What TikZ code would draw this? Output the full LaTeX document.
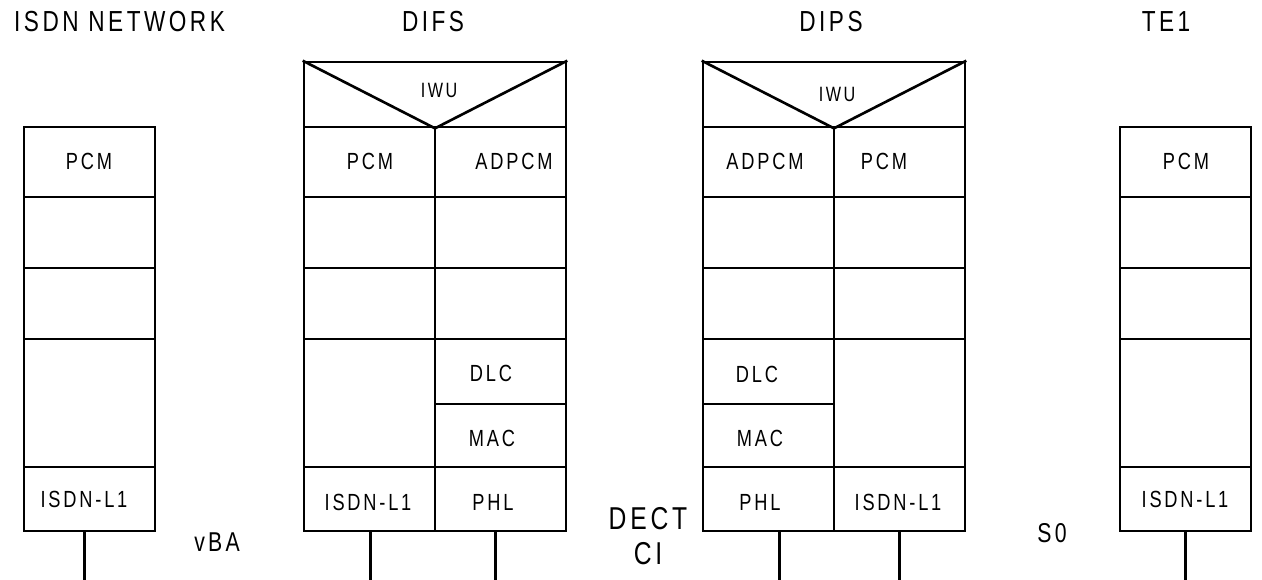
\documentclass[tikz,border=0pt]{standalone}
\usepackage{fontspec}
\setmainfont{Liberation Sans}[FakeStretch=0.78, LetterSpace=12]
\usetikzlibrary{fit}

\tikzset{
	layer/.style={draw, line width=1.5pt, inner sep=0pt},
	wire/.style={line width=1.5pt},
	cell/.style={font=\fontsize{13.3}{15}\selectfont},
	iwu/.style={font=\fontsize{11.8}{13}\selectfont},
	title/.style={font=\fontsize{16.5}{19}\selectfont},
	iface/.style={font=\fontsize{15.5}{18}\selectfont, align=center}
}

\begin{document}
	\begin{tikzpicture}[x=0.02cm,y=-0.02cm]
		\useasboundingbox (0,0) rectangle (1262,580);
		
		% titles
		\node[title, anchor=west] (tnet) at (8,22) {ISDN NETWORK};
		\node[title] (tdifs) at (433,22) {DIFS};
		\node[title] (tdips) at (831,22) {DIPS};
		\node[title] (tte) at (1166,22) {TE1};
		
		% ISDN network stack
		\node[layer, fit={(24,127) (155,197)}] (netpcm) {};
		\node[layer, fit={(24,197) (155,268)}] (neta) {};
		\node[layer, fit={(24,268) (155,339)}] (netb) {};
		\node[layer, fit={(24,339) (155,467)}] (netc) {};
		\node[layer, fit={(24,467) (155,531)}] (netl1) {};
		\node[cell] at (89,161) {PCM};
		\node[cell] at (84,499) {ISDN-L1};
		
		% DIFS stack
		\node[layer, fit={(304,62) (566,127)}] (fsiwu) {};
		\draw[wire] (fsiwu.north west) -- (fsiwu.south) -- (fsiwu.north east);
		\node[layer, fit={(304,127) (435,197)}] (fspcm) {};
		\node[layer, fit={(304,197) (435,268)}] (fsa) {};
		\node[layer, fit={(304,268) (435,339)}] (fsb) {};
		\node[layer, fit={(304,339) (435,467)}] (fsc) {};
		\node[layer, fit={(304,467) (435,531)}] (fsl1) {};
		\node[layer, fit={(435,127) (566,197)}] (fsadpcm) {};
		\node[layer, fit={(435,197) (566,268)}] (fsd) {};
		\node[layer, fit={(435,268) (566,339)}] (fse) {};
		\node[layer, fit={(435,339) (566,404)}] (fsdlc) {};
		\node[layer, fit={(435,404) (566,467)}] (fsmac) {};
		\node[layer, fit={(435,467) (566,531)}] (fsphl) {};
		\node[iwu] at (439,90) {IWU};
		\node[cell] at (370,161) {PCM};
		\node[cell] at (514,161) {ADPCM};
		\node[cell] at (491,373) {DLC};
		\node[cell] at (492,438) {MAC};
		\node[cell] at (493,502) {PHL};
		\node[cell] at (368,502) {ISDN-L1};
		
		% DIPS stack
		\node[layer, fit={(703,62) (965,127)}] (psiwu) {};
		\draw[wire] (psiwu.north west) -- (psiwu.south) -- (psiwu.north east);
		\node[layer, fit={(703,127) (834,197)}] (psadpcm) {};
		\node[layer, fit={(703,197) (834,268)}] (psa) {};
		\node[layer, fit={(703,268) (834,339)}] (psb) {};
		\node[layer, fit={(703,339) (834,404)}] (psdlc) {};
		\node[layer, fit={(703,404) (834,467)}] (psmac) {};
		\node[layer, fit={(703,467) (834,531)}] (psphl) {};
		\node[layer, fit={(834,127) (965,197)}] (pspcm) {};
		\node[layer, fit={(834,197) (965,268)}] (psd) {};
		\node[layer, fit={(834,268) (965,339)}] (pse) {};
		\node[layer, fit={(834,339) (965,467)}] (psc) {};
		\node[layer, fit={(834,467) (965,531)}] (psl1) {};
		\node[iwu] at (837,94) {IWU};
		\node[cell] at (765,161) {ADPCM};
		\node[cell] at (884,161) {PCM};
		\node[cell] at (757,374) {DLC};
		\node[cell] at (760,438) {MAC};
		\node[cell] at (760,502) {PHL};
		\node[cell] at (898,502) {ISDN-L1};
		
		% TE1 stack
		\node[layer, fit={(1120,127) (1251,197)}] (tepcm) {};
		\node[layer, fit={(1120,197) (1251,268)}] (tea) {};
		\node[layer, fit={(1120,268) (1251,339)}] (teb) {};
		\node[layer, fit={(1120,339) (1251,467)}] (tec) {};
		\node[layer, fit={(1120,467) (1251,531)}] (tel1) {};
		\node[cell] at (1186,161) {PCM};
		\node[cell] at (1185,499) {ISDN-L1};
		
		% lines
		\draw[wire] (netl1.south) ++(-5,0) -- ++(0,49);
		\draw[wire] (fsl1.south) ++(1,0) -- ++(0,49);
		\draw[wire] (fsphl.south) ++(-5,0) -- ++(0,49);
		\draw[wire] (psphl.south) ++(11,0) -- ++(0,49);
		\draw[wire] (psl1.south) -- ++(0,49);
		\draw[wire] (tel1.south) -- ++(0,49);
		
		% interfaces
		\node[iface] (vba) at (217,542) {vBA};
		\node[iface, font=\fontsize{18}{20}\selectfont] (dect) at (648,536) {DECT\\CI};
		\node[iface] (szero) at (1052,533) {S0};
	\end{tikzpicture}
\end{document}
